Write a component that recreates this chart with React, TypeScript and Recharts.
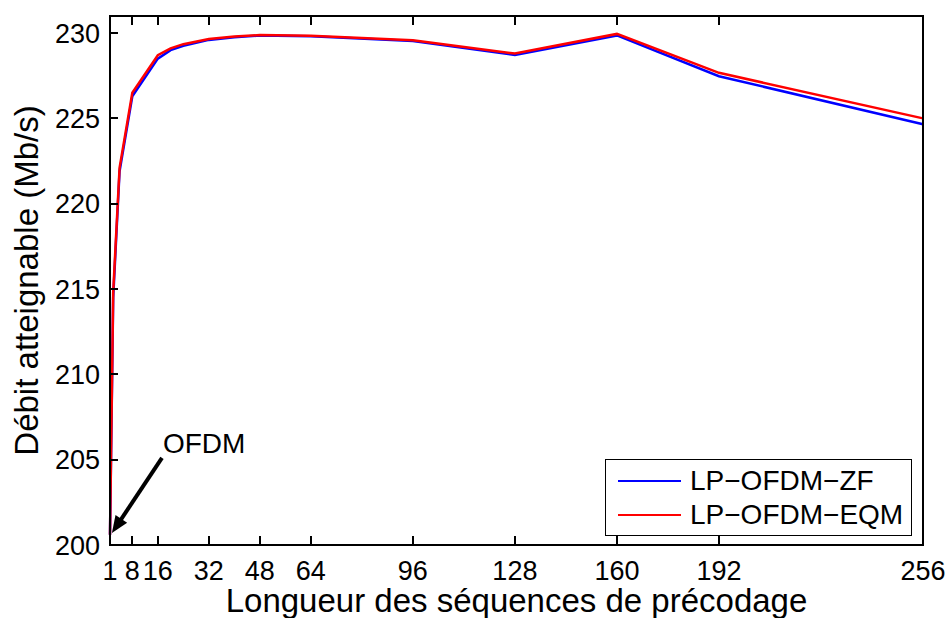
import React from "react";
import {
  LineChart,
  Line,
  XAxis,
  YAxis,
  Legend,
  ReferenceLine,
  ReferenceArea,
} from "recharts";

// longueur des séquences de précodage
const lengths = [1, 2, 4, 8, 16, 20, 24, 32, 40, 48, 64, 96, 128, 160, 192, 256];
// débit (Mb/s)
const zfRate = [200.6, 214.5, 221.9, 226.3, 228.5, 229.0, 229.25, 229.6, 229.75, 229.86, 229.82, 229.54, 228.72, 229.86, 227.47, 224.66];
const eqmRate = [200.6, 214.8, 222.1, 226.5, 228.7, 229.1, 229.35, 229.65, 229.8, 229.88, 229.84, 229.58, 228.8, 229.95, 227.67, 225.0];

const xTicks = [1, 8, 16, 32, 48, 64, 96, 128, 160, 192, 256];
const yTicks = [200, 205, 210, 215, 220, 225, 230];
const xDomain = [1, 256];
const yDomain = [200, 231];

const seriesNames = ["LP\u2212OFDM\u2212ZF", "LP\u2212OFDM\u2212EQM"];
const seriesColors = ["#0000ff", "#ff0000"];

// annotation "OFDM"
const arrowFrom = { x: 17.3, y: 205.1 };
const arrowTo = { x: 1.6, y: 200.7 };
const arrowText = "OFDM";

const data = lengths.map((n, i) => ({ n, zf: zfRate[i], eqm: eqmRate[i] }));

const FONT = "'Liberation Sans', Arial, Helvetica, sans-serif";

const BottomTick = (props: any) => {
  const { x, y, payload } = props;
  return (
    <g>
      <line x1={x} y1={y} x2={x} y2={y - 9} stroke="#000" strokeWidth={2} shapeRendering="crispEdges" />
      <text x={x} y={y + 35} textAnchor="middle" fontSize={27} fontFamily={FONT} fill="#000">
        {payload.value}
      </text>
    </g>
  );
};

const TopTick = (props: any) => {
  const { x, y } = props;
  return <line x1={x} y1={y} x2={x} y2={y + 9} stroke="#000" strokeWidth={2} shapeRendering="crispEdges" />;
};

const LeftTick = (props: any) => {
  const { x, y, payload } = props;
  return (
    <g>
      <line x1={x} y1={y} x2={x + 8} y2={y} stroke="#000" strokeWidth={2} shapeRendering="crispEdges" />
      <text x={x - 10} y={y + 9.5} textAnchor="end" fontSize={27} fontFamily={FONT} fill="#000">
        {payload.value}
      </text>
    </g>
  );
};

const RightTick = (props: any) => {
  const { x, y } = props;
  return <line x1={x} y1={y} x2={x - 8} y2={y} stroke="#000" strokeWidth={2} shapeRendering="crispEdges" />;
};

const Arrow = (props: any) => {
  const { x1, y1, x2, y2 } = props;
  const dx = x2 - x1;
  const dy = y2 - y1;
  const len = Math.sqrt(dx * dx + dy * dy);
  const ux = dx / len;
  const uy = dy / len;
  const head = 17;
  const hw = 7;
  const bx = x2 - ux * head;
  const by = y2 - uy * head;
  return (
    <g>
      <line x1={x1} y1={y1} x2={bx + ux * 2} y2={by + uy * 2} stroke="#000" strokeWidth={4} />
      <polygon
        points={`${x2},${y2} ${bx - uy * hw},${by + ux * hw} ${bx + uy * hw},${by - ux * hw}`}
        fill="#000"
      />
      <text x={x1 + 1} y={y1 - 5} fontSize={28} fontFamily={FONT} fill="#000">
        {arrowText}
      </text>
    </g>
  );
};

const LegendBox = () => (
  <div
    style={{
      width: 305,
      height: 75,
      border: "1px solid #000",
      background: "#fff",
      fontFamily: FONT,
      fontSize: 28,
      boxSizing: "content-box",
    }}
  >
    {seriesNames.map((name, i) => (
      <div key={name} style={{ display: "flex", alignItems: "center", height: 34, marginTop: i === 0 ? 4 : 0 }}>
        <div style={{ width: 63, height: 2, background: seriesColors[i], marginLeft: 12, marginRight: 9 }} />
        <span style={{ lineHeight: "34px" }}>{name}</span>
      </div>
    ))}
  </div>
);

export default function App() {
  return (
    <div style={{ position: "absolute", left: 0, top: 0, background: "#fff" }}>
      <LineChart width={949} height={618} data={data} margin={{ top: 15, right: 24, left: 0, bottom: 0 }}>
        <XAxis
          xAxisId="b"
          dataKey="n"
          type="number"
          domain={xDomain}
          ticks={xTicks}
          interval={0}
          height={73}
          tickSize={0}
          tickMargin={0}
          tickLine={false}
          tick={<BottomTick />}
          axisLine={{ stroke: "#000", strokeWidth: 2 }}
          label={{
            value: "Longueur des séquences de précodage",
            position: "insideBottom",
            offset: 6,
            style: { fontSize: 33, fontFamily: FONT, fill: "#000" },
          }}
        />
        <XAxis
          xAxisId="t"
          orientation="top"
          dataKey="n"
          type="number"
          domain={xDomain}
          ticks={xTicks}
          interval={0}
          height={1}
          tickSize={0}
          tickMargin={0}
          tickLine={false}
          tick={<TopTick />}
          axisLine={{ stroke: "#000", strokeWidth: 2 }}
        />
        <YAxis
          yAxisId="l"
          type="number"
          domain={yDomain}
          ticks={yTicks}
          interval={0}
          width={110}
          tickSize={0}
          tickMargin={0}
          tickLine={false}
          tick={<LeftTick />}
          axisLine={{ stroke: "#000", strokeWidth: 2 }}
          label={{
            value: "Débit atteignable (Mb/s)",
            angle: -90,
            position: "insideLeft",
            offset: 26,
            style: { textAnchor: "middle", fontSize: 33, fontFamily: FONT, fill: "#000" },
          }}
        />
        <YAxis
          yAxisId="r"
          orientation="right"
          type="number"
          domain={yDomain}
          ticks={yTicks}
          interval={0}
          width={2}
          tickSize={0}
          tickMargin={0}
          tickLine={false}
          tick={<RightTick />}
          axisLine={{ stroke: "#000", strokeWidth: 2 }}
        />
        <ReferenceArea
          xAxisId="b"
          yAxisId="l"
          x1={xDomain[0]}
          x2={xDomain[1]}
          y1={yDomain[0]}
          y2={yDomain[1]}
          fill="none"
          fillOpacity={0}
          stroke="#000"
          strokeWidth={2}
          shapeRendering="crispEdges"
          ifOverflow="visible"
        />
        <Line
          xAxisId="b"
          yAxisId="l"
          type="linear"
          dataKey="zf"
          name={seriesNames[0]}
          stroke={seriesColors[0]}
          strokeWidth={2.5}
          dot={false}
          isAnimationActive={false}
        />
        <Line
          xAxisId="b"
          yAxisId="l"
          type="linear"
          dataKey="eqm"
          name={seriesNames[1]}
          stroke={seriesColors[1]}
          strokeWidth={2.5}
          dot={false}
          isAnimationActive={false}
        />
        <ReferenceLine
          xAxisId="b"
          yAxisId="l"
          segment={[arrowFrom, arrowTo]}
          ifOverflow="visible"
          shape={(p: any) => <Arrow {...p} />}
        />
        <Legend
          layout="vertical"
          align="center"
          verticalAlign="middle"
          content={<LegendBox />}
          wrapperStyle={{ left: 605, top: 459, width: 307, height: 77, bottom: "auto", right: "auto" }}
        />
      </LineChart>
    </div>
  );
}
